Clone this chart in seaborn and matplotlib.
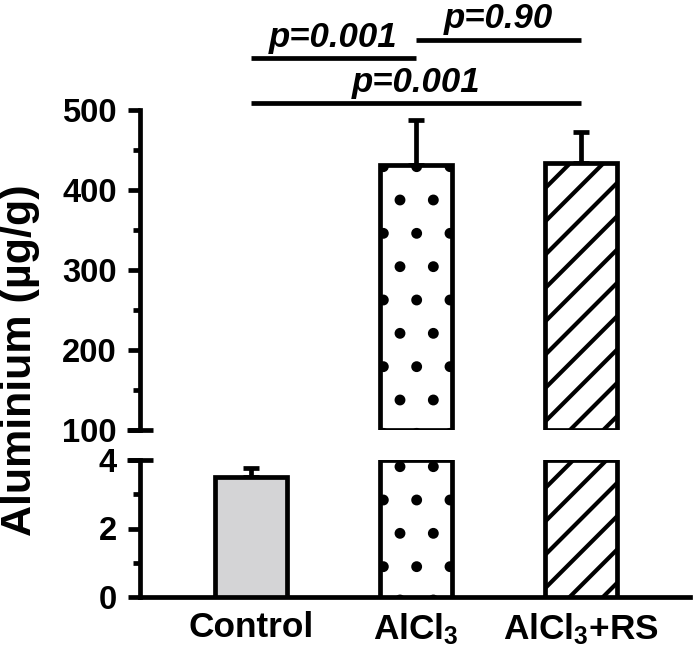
import numpy as np
import matplotlib
matplotlib.use("Agg")
import matplotlib.pyplot as plt
import seaborn as sns

groups = ["Control", "AlCl3", "AlCl3+RS"]
tick_labels = ["Control", r"AlCl$_{3}$", r"AlCl$_{3}$+RS"]
means = [3.5, 431, 434]
sem = [0.27, 57, 39]
colors = ["#d4d4d6", "#ffffff", "#ffffff"]
hatches = ["", ".", "//"]

# significance brackets: (group i, group j, y level, label)
brackets = [(0, 1, 565, "p=0.001"), (1, 2, 588, "p=0.90"), (0, 2, 509, "p=0.001")]

low_lim = (0, 4)
high_lim = (100, 500)

sns.set_theme(style="ticks")
plt.rcParams["font.family"] = ["Liberation Sans", "DejaVu Sans"]
plt.rcParams["font.weight"] = "bold"
plt.rcParams["text.color"] = "black"
plt.rcParams["axes.labelcolor"] = "black"
plt.rcParams["xtick.color"] = "black"
plt.rcParams["ytick.color"] = "black"
plt.rcParams["axes.edgecolor"] = "black"
plt.rcParams["mathtext.fontset"] = "custom"
plt.rcParams["mathtext.rm"] = "Liberation Sans:bold"
plt.rcParams["mathtext.it"] = "Liberation Sans:bold"
plt.rcParams["mathtext.bf"] = "Liberation Sans:bold"
plt.rcParams["mathtext.default"] = "rm"
plt.rcParams["hatch.linewidth"] = 1.5
plt.rcParams["hatch.color"] = "black"

W, H, DPI = 700, 657, 200
fig = plt.figure(figsize=(W / DPI, H / DPI), dpi=DPI)
left, right = 140 / W, 690 / W
ax_hi = fig.add_axes([left, 1 - 430 / H, right - left, (430 - 110) / H])
ax_lo = fig.add_axes([left, 1 - 597 / H, right - left, (597 - 460) / H])

lw = 1.7
n = len(groups)
x = np.arange(n)

for ax, (lo, hi) in [(ax_lo, low_lim), (ax_hi, high_lim)]:
    heights = np.minimum(means, hi)
    sns.barplot(x=groups, y=heights, hue=groups, palette=colors, legend=False,
                width=0.44, edgecolor="black", linewidth=lw, ax=ax, zorder=3)
    for p, h, v in zip(ax.patches, hatches, means):
        p.set_hatch(h)
        if v <= lo:
            p.set_visible(False)
        else:
            p.set_y(lo)
            p.set_height(min(v, hi) - lo)
    show = [i for i in range(n) if lo < means[i] + sem[i] and means[i] < hi]
    ax.errorbar(x[show], np.array(means)[show],
                yerr=[np.zeros(len(show)), np.array(sem)[show]],
                fmt="none", ecolor="black", elinewidth=lw, capsize=3,
                capthick=lw, zorder=2)
    ax.set_ylim(lo, hi)
    ax.set_xlim(-0.673, 2.66)
    for s in ["top", "right"]:
        ax.spines[s].set_visible(False)
    ax.spines["left"].set_linewidth(lw)
    ax.spines["bottom"].set_linewidth(lw)
    ax.tick_params(axis="y", which="major", length=4.3, width=lw, pad=4,
                   labelsize=11.8)
    ax.tick_params(axis="y", which="minor", length=2.4, width=lw)
    ax.set_ylabel("")
    ax.set_xlabel("")
    for t in ax.get_yticklabels():
        t.set_fontweight("bold")

ax_lo.set_yticks([0, 2, 4])
ax_lo.set_yticks([1, 3], minor=True)
ax_hi.set_yticks([100, 200, 300, 400, 500])
ax_hi.set_yticks([150, 250, 350, 450], minor=True)

ax_hi.spines["bottom"].set_visible(False)
ax_hi.tick_params(axis="x", bottom=False, labelbottom=False)
ax_lo.set_xticks(x)
ax_lo.set_xticklabels(tick_labels, fontsize=12.7, fontweight="bold")
ax_lo.tick_params(axis="x", length=0, pad=5)

# axis break marks
d = 13 / 550
ax_hi.plot([-d, d], [0, 0], transform=ax_hi.transAxes, color="black",
           lw=lw, clip_on=False, solid_capstyle="butt")
ax_lo.plot([-d, d], [1, 1], transform=ax_lo.transAxes, color="black",
           lw=lw, clip_on=False, solid_capstyle="butt")

for i, j, y, lab in brackets:
    ax_hi.plot([i, j], [y, y], color="black", lw=lw, clip_on=False,
               solid_capstyle="butt")
    ax_hi.annotate(lab, xy=((i + j) / 2, y), xytext=(0, 4),
                   textcoords="offset points", ha="center", va="baseline",
                   fontsize=12.5, fontweight="bold", fontstyle="italic",
                   color="black", annotation_clip=False)

fig.text(20 / W, 1 - 360 / H, "Aluminium (µg/g)", rotation=90, ha="center",
         va="center", fontsize=15.5, fontweight="bold", color="black")

fig.savefig("out.png", dpi=DPI)
